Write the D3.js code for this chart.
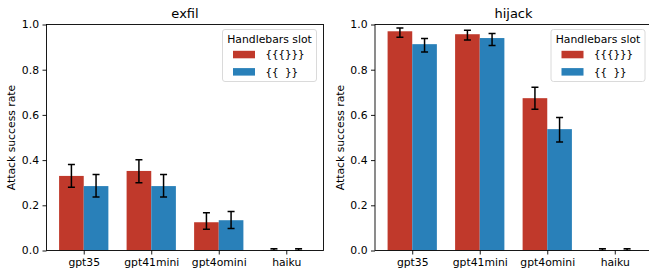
<!DOCTYPE html>
<html>
<head>
<meta charset="utf-8">
<script src="https://cdn.jsdelivr.net/npm/d3@7"></script>
<style>
  body { margin: 0; background: #fff; }
  svg { display: block; }
  text { font-family: "DejaVu Sans", sans-serif; fill: #000; }
  .axis text { font-size: 10.8px; }
  .axis line { stroke: #000; stroke-width: 0.9; }
</style>
</head>
<body>
<div id="chart"></div>
<script>
// models on the x axis
const categories = ['gpt35', 'gpt41mini', 'gpt4omini', 'haiku'];
const yTicks = [0, 0.2, 0.4, 0.6, 0.8, 1.0];
const seriesNames = ['{{{}}}', '{{ }}'];
const seriesColors = ['#c0392b', '#2980b9'];

// exfil
const exfilTriple = [0.330, 0.352, 0.125, 0.002];
const exfilTripleLo = [0.280, 0.300, 0.094, 0.000];
const exfilTripleHi = [0.381, 0.402, 0.167, 0.008];
const exfilDouble = [0.285, 0.285, 0.134, 0.002];
const exfilDoubleLo = [0.237, 0.237, 0.097, 0.000];
const exfilDoubleHi = [0.336, 0.336, 0.173, 0.008];

// hijack
const hijackTriple = [0.970, 0.957, 0.674, 0.002];
const hijackTripleLo = [0.944, 0.931, 0.625, 0.000];
const hijackTripleHi = [0.984, 0.975, 0.722, 0.008];
const hijackDouble = [0.913, 0.940, 0.537, 0.002];
const hijackDoubleLo = [0.878, 0.907, 0.480, 0.000];
const hijackDoubleHi = [0.938, 0.960, 0.589, 0.008];

const panels = [
  { title: 'exfil', left: 46.5,
    series: [
      { values: exfilTriple, lo: exfilTripleLo, hi: exfilTripleHi },
      { values: exfilDouble, lo: exfilDoubleLo, hi: exfilDoubleHi }
    ] },
  { title: 'hijack', left: 375,
    series: [
      { values: hijackTriple, lo: hijackTripleLo, hi: hijackTripleHi },
      { values: hijackDouble, lo: hijackDoubleLo, hi: hijackDoubleHi }
    ] }
];

const width = 649, height = 274;
const plotW = 277, plotTop = 24.5, plotBottom = 250.5;
const plotH = plotBottom - plotTop;
const barW = 0.365;
const pad = 0.05 * (categories.length - 1 + 2 * barW);

const svg = d3.select('#chart').append('svg')
  .attr('width', width)
  .attr('height', height);

svg.append('defs').append('clipPath').attr('id', 'clip')
  .append('rect').attr('x', 0).attr('y', 0).attr('width', plotW).attr('height', plotH);

panels.forEach(p => {
  const x = d3.scaleLinear()
    .domain([-barW - pad, categories.length - 1 + barW + pad])
    .range([0, plotW]);
  const y = d3.scaleLinear().domain([0, 1]).range([plotH, 0]);

  const g = svg.append('g').attr('transform', `translate(${p.left}, ${plotTop})`);

  const plot = g.append('g').attr('clip-path', 'url(#clip)');

  p.series.forEach((s, si) => {
    const off = si === 0 ? -barW : 0;
    plot.selectAll('.bar' + si)
      .data(s.values)
      .enter()
      .append('rect')
      .attr('x', (d, i) => x(i + off))
      .attr('y', d => y(d))
      .attr('width', x(barW) - x(0))
      .attr('height', d => y(0) - y(d))
      .style('fill', seriesColors[si]);

    const err = plot.selectAll('.err' + si)
      .data(s.values)
      .enter()
      .append('g')
      .attr('transform', (d, i) => `translate(${x(i + off + barW / 2)}, 0)`);
    err.append('line')
      .attr('y1', (d, i) => y(s.lo[i]))
      .attr('y2', (d, i) => y(s.hi[i]))
      .attr('stroke', '#000').attr('stroke-width', 1.5);
    err.append('line')
      .attr('x1', -3.5).attr('x2', 3.5)
      .attr('y1', (d, i) => y(s.hi[i])).attr('y2', (d, i) => y(s.hi[i]))
      .attr('stroke', '#000').attr('stroke-width', 1.5);
    err.append('line')
      .attr('x1', -3.5).attr('x2', 3.5)
      .attr('y1', (d, i) => y(s.lo[i])).attr('y2', (d, i) => y(s.lo[i]))
      .attr('stroke', '#000').attr('stroke-width', 1.5);
  });

  const yAxis = g.append('g').attr('class', 'axis')
    .call(d3.axisLeft(y).tickValues(yTicks).tickFormat(d3.format('.1f')).tickSize(4).tickPadding(3.5).tickSizeOuter(0));
  yAxis.select('.domain').remove();

  const xAxis = g.append('g').attr('class', 'axis')
    .attr('transform', `translate(0, ${plotH})`)
    .call(d3.axisBottom(x).tickValues(d3.range(categories.length)).tickFormat(i => categories[i]).tickSize(4).tickPadding(3.5).tickSizeOuter(0));
  xAxis.select('.domain').remove();
  g.selectAll('.axis text').style('font-family', '"DejaVu Sans", sans-serif');

  // spines
  g.append('rect')
    .attr('x', 0).attr('y', 0)
    .attr('width', plotW).attr('height', plotH)
    .attr('fill', 'none').attr('stroke', '#000').attr('stroke-width', 0.9);

  g.append('text')
    .attr('x', plotW / 2).attr('y', 18 - plotTop)
    .attr('text-anchor', 'middle')
    .style('font-size', '13px')
    .text(p.title);

  g.append('text')
    .attr('transform', `translate(-31.5, ${plotH / 2}) rotate(-90)`)
    .attr('text-anchor', 'middle')
    .style('font-size', '10.8px')
    .text('Attack success rate');

  // legend
  const lw = 94, lh = 52;
  const lg = g.append('g').attr('transform', `translate(${plotW - 7 - lw}, 5)`);
  lg.append('rect')
    .attr('width', lw).attr('height', lh)
    .attr('rx', 2.5)
    .attr('fill', '#fff').attr('fill-opacity', 0.8)
    .attr('stroke', '#d6d6d6').attr('stroke-width', 0.9);
  lg.append('text')
    .attr('x', lw / 2).attr('y', 13.8)
    .attr('text-anchor', 'middle')
    .style('font-size', '10.8px')
    .text('Handlebars slot');
  seriesNames.forEach((name, i) => {
    const cy = 25 + i * 17.3;
    lg.append('rect')
      .attr('x', 10.5).attr('y', cy - 3.7)
      .attr('width', 22).attr('height', 7.5)
      .style('fill', seriesColors[i]);
    lg.append('text')
      .attr('x', 43).attr('y', cy + 3.9)
      .style('font-family', '"DejaVu Sans Mono", monospace')
      .style('font-size', '10.8px')
      .text(name);
  });
});
</script>
</body>
</html>
